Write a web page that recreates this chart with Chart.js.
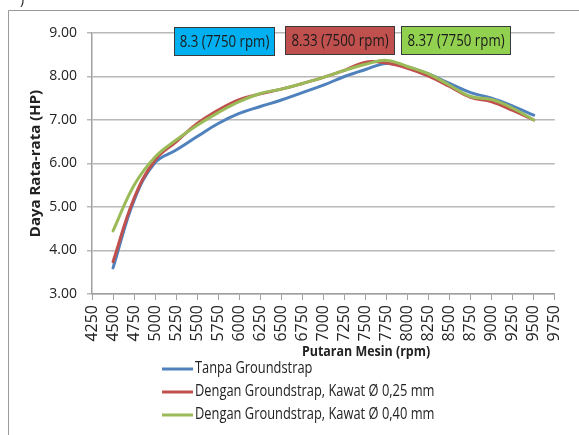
<!DOCTYPE html>
<html>
<head>
<meta charset="utf-8">
<script src="https://cdn.jsdelivr.net/npm/chart.js@4"></script>
<style>
  body { margin: 0; background: #fff; }
</style>
</head>
<body>
<canvas id="graficoDaya" width="579" height="435"></canvas>
<script>
const putaran = [4500, 4750, 5000, 5250, 5500, 5750, 6000, 6250, 6500, 6750, 7000,
                 7250, 7500, 7750, 8000, 8250, 8500, 8750, 9000, 9250, 9500];

const tanpaGroundstrap = [3.60, 5.15, 6.02, 6.31, 6.62, 6.92, 7.15, 7.31, 7.46, 7.63, 7.80,
                          8.00, 8.16, 8.30, 8.22, 8.06, 7.84, 7.63, 7.50, 7.32, 7.11];
const kawat025 = [3.74, 5.20, 6.08, 6.50, 6.92, 7.23, 7.47, 7.60, 7.71, 7.84, 7.98,
                  8.14, 8.33, 8.31, 8.19, 8.01, 7.77, 7.52, 7.42, 7.22, 7.00];
const kawat040 = [4.45, 5.50, 6.15, 6.54, 6.88, 7.17, 7.42, 7.61, 7.71, 7.84, 7.98,
                  8.14, 8.28, 8.37, 8.23, 8.06, 7.80, 7.54, 7.47, 7.27, 7.00];

const namaSeri = ['Tanpa Groundstrap', 'Dengan Groundstrap, Kawat Ø 0,25 mm', 'Dengan Groundstrap, Kawat Ø 0,40 mm'];
const labelPuncak = ['8.3 (7750 rpm)', '8.33 (7500 rpm)', '8.37 (7750 rpm)'];
const judulX = 'Putaran Mesin (rpm)';
const judulY = 'Daya Rata-rata (HP)';

const fonte = "'Open Sans', 'Liberation Sans', sans-serif";
const corTexto = '#222';

function pontos(valores) {
  return putaran.map((rpm, i) => ({ x: rpm, y: valores[i] }));
}

// text in the original looks horizontally squeezed
function textoApertado(ctx, texto, x, y, alinhar) {
  const fator = 0.83;
  ctx.save();
  ctx.translate(x, y);
  ctx.scale(fator, 1);
  ctx.textAlign = alinhar;
  ctx.fillText(texto, 0, 0);
  ctx.restore();
}

const fundoEMoldura = {
  id: 'fundoEMoldura',
  beforeDraw(chart) {
    const ctx = chart.ctx;
    ctx.save();
    ctx.fillStyle = '#fff';
    ctx.fillRect(0, 0, chart.width, chart.height);
    ctx.strokeStyle = '#9a9a9a';
    ctx.lineWidth = 1;
    ctx.beginPath();
    ctx.moveTo(8.5, chart.height);
    ctx.lineTo(8.5, 10.5);
    ctx.lineTo(chart.width, 10.5);
    ctx.stroke();
    ctx.fillStyle = corTexto;
    ctx.font = '14px ' + fonte;
    ctx.textBaseline = 'alphabetic';
    ctx.fillText(')', 20, 4);
    ctx.restore();
  }
};

const extras = {
  id: 'extras',
  afterDraw(chart) {
    const ctx = chart.ctx;
    ctx.save();

    // peak boxes
    const caixas = [
      { x: 174, y: 27, w: 101, h: 29, fundo: '#00b0f0' },
      { x: 285, y: 26, w: 110, h: 29, fundo: '#c0504d' },
      { x: 401, y: 26, w: 110, h: 29, fundo: '#92d050' }
    ];
    caixas.forEach((c, i) => {
      ctx.fillStyle = c.fundo;
      ctx.fillRect(c.x, c.y, c.w, c.h);
      ctx.strokeStyle = '#3a3a3a';
      ctx.lineWidth = 1;
      ctx.strokeRect(c.x + 0.5, c.y + 0.5, c.w - 1, c.h - 1);
      ctx.fillStyle = '#1a1a1a';
      ctx.font = '16px ' + fonte;
      ctx.textBaseline = 'middle';
      textoApertado(ctx, labelPuncak[i], c.x + c.w / 2, c.y + c.h / 2 + 1, 'center');
    });

    // x axis title
    ctx.fillStyle = corTexto;
    ctx.font = 'bold 15px ' + fonte;
    ctx.textBaseline = 'middle';
    textoApertado(ctx, judulX, 366, 352, 'center');

    // legend
    const linhas = [369, 392, 415];
    chart.data.datasets.forEach((ds, i) => {
      const y = linhas[i];
      ctx.strokeStyle = ds.borderColor;
      ctx.lineWidth = 3;
      ctx.beginPath();
      ctx.moveTo(162, y);
      ctx.lineTo(193, y);
      ctx.stroke();
      ctx.fillStyle = corTexto;
      ctx.font = '15.5px ' + fonte;
      ctx.textBaseline = 'middle';
      textoApertado(ctx, ds.label, 195, y, 'left');
    });
    ctx.restore();
  }
};

const graficoDaya = document.getElementById('graficoDaya');

const grafico = new Chart(graficoDaya, {
  type: 'line',
  data: {
    datasets: [{
      label: namaSeri[0],
      data: pontos(tanpaGroundstrap),
      borderColor: '#4f81bd',
      order: 2
    }, {
      label: namaSeri[1],
      data: pontos(kawat025),
      borderColor: '#c0504d',
      order: 1
    }, {
      label: namaSeri[2],
      data: pontos(kawat040),
      borderColor: '#9bbb59',
      order: 0
    }]
  },
  options: {
    responsive: false,
    animation: false,
    layout: { padding: { left: 0, top: 33, right: 12, bottom: 0 } },
    elements: {
      line: { borderWidth: 3, tension: 0.4, fill: false, borderCapStyle: 'round' },
      point: { radius: 0 }
    },
    plugins: {
      legend: { display: false },
      tooltip: { enabled: false }
    },
    scales: {
      x: {
        type: 'linear',
        min: 4250,
        max: 9750,
        ticks: {
          stepSize: 250,
          autoSkip: false,
          minRotation: 90,
          maxRotation: 90,
          padding: 5,
          color: corTexto,
          font: { family: fonte, size: 16 },
          callback: (v) => String(v)
        },
        grid: { drawOnChartArea: false, drawTicks: true, tickLength: 6, color: '#a0a0a0' },
        border: { color: '#a0a0a0', width: 1.5 },
        afterFit: (escala) => { escala.height = 141; }
      },
      y: {
        min: 3,
        max: 9,
        ticks: {
          stepSize: 1,
          padding: 10,
          color: corTexto,
          font: { family: fonte, size: 14 },
          callback: (v) => v.toFixed(2)
        },
        grid: { color: '#b8b8b8', lineWidth: 1.5, tickLength: 5 },
        border: { color: '#a0a0a0', width: 1.5 },
        title: {
          display: true,
          text: judulY,
          color: corTexto,
          font: { family: fonte, size: 15, weight: 'bold' },
          padding: { top: 27, bottom: 0 }
        },
        afterFit: (escala) => { escala.width = 92; }
      }
    }
  },
  plugins: [fundoEMoldura, extras]
});
</script>
</body>
</html>
